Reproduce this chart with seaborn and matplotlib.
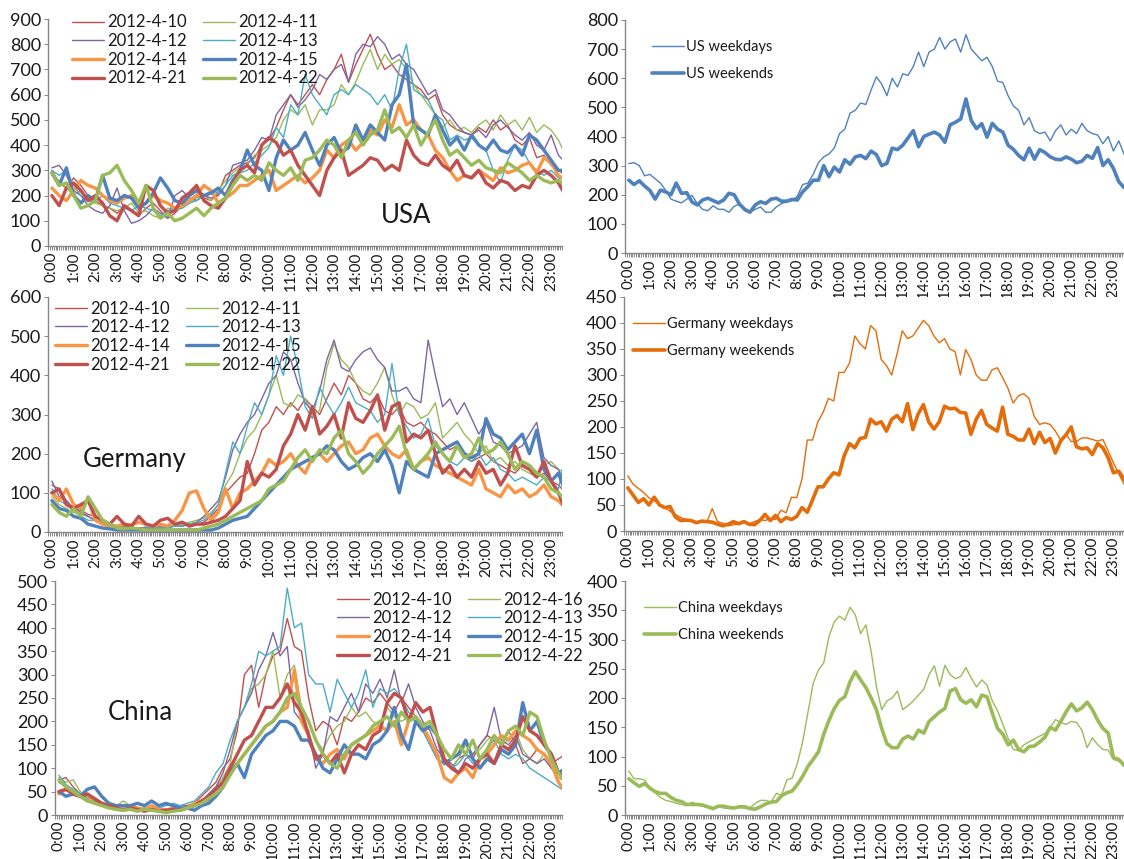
import numpy as np
import matplotlib
matplotlib.use("Agg")
import matplotlib.pyplot as plt
from matplotlib.ticker import FixedLocator, MultipleLocator
import seaborn as sns

sns.set_style("white")
plt.rcParams['font.family'] = ['Lato', 'DejaVu Sans']

# ---- data (left panels: one value every 20 min, right panels: every 15 min)
step_left = 20
step_right = 15

dates_us_de = ['2012-4-10', '2012-4-11', '2012-4-12', '2012-4-13',
               '2012-4-14', '2012-4-15', '2012-4-21', '2012-4-22']
dates_cn = ['2012-4-10', '2012-4-16', '2012-4-12', '2012-4-13',
            '2012-4-14', '2012-4-15', '2012-4-21', '2012-4-22']

usa_days = {
    '2012-4-10': [300, 250, 230, 270, 240, 200, 180, 160, 150,
                  130, 160, 140, 120, 150, 170, 140, 110, 130,
                  160, 180, 200, 190, 180, 210, 280, 300, 320,
                  330, 350, 400, 420, 470, 540, 600, 560, 600,
                  640, 600, 660, 700, 760, 650, 720, 780, 840,
                  760, 700, 720, 680, 660, 640, 620, 580, 600,
                  520, 480, 460, 450, 440, 470, 450, 500, 460,
                  480, 420, 400, 430, 350, 360, 320, 300, 280],
    '2012-4-11': [280, 260, 230, 200, 220, 180, 170, 160, 150,
                  140, 150, 170, 130, 140, 120, 110, 150, 140,
                  150, 170, 190, 200, 180, 220, 260, 290, 310,
                  320, 360, 380, 400, 430, 500, 540, 520, 560,
                  480, 540, 540, 560, 640, 600, 650, 720, 780,
                  700, 760, 720, 740, 700, 640, 600, 560, 520,
                  470, 500, 460, 470, 450, 480, 500, 460, 520,
                  480, 500, 460, 510, 450, 480, 460, 420, 360],
    '2012-4-12': [310, 320, 280, 220, 200, 160, 140, 130, 160,
                  230, 140, 90, 100, 120, 150, 130, 110, 200,
                  220, 190, 180, 200, 190, 200, 240, 320, 330,
                  340, 380, 430, 420, 520, 560, 600, 550, 580,
                  620, 680, 660, 700, 720, 650, 760, 800, 790,
                  830, 800, 740, 760, 720, 700, 650, 600, 620,
                  540, 520, 480, 450, 440, 460, 430, 480, 500,
                  470, 440, 420, 450, 400, 380, 440, 360, 330],
    '2012-4-13': [300, 280, 300, 240, 200, 180, 180, 200, 170,
                  160, 150, 140, 160, 150, 140, 120, 140, 150,
                  150, 170, 180, 200, 220, 210, 240, 280, 290,
                  300, 330, 360, 390, 470, 430, 560, 520, 680,
                  600, 560, 520, 600, 620, 600, 640, 620, 600,
                  560, 600, 540, 700, 800, 620, 600, 580, 520,
                  500, 420, 440, 420, 430, 400, 380, 300, 250,
                  340, 400, 380, 330, 300, 280, 300, 270, 260],
    '2012-4-14': [230, 200, 180, 220, 260, 240, 230, 200, 180,
                  170, 190, 200, 160, 170, 200, 180, 170, 150,
                  160, 180, 200, 240, 220, 170, 190, 210, 240,
                  240, 260, 280, 300, 220, 240, 260, 280, 250,
                  270, 300, 380, 350, 400, 420, 380, 410, 460,
                  440, 500, 470, 560, 480, 500, 460, 440, 380,
                  350, 300, 260, 280, 270, 300, 280, 260, 310,
                  290, 300, 320, 330, 290, 350, 330, 280, 260],
    '2012-4-15': [290, 240, 310, 200, 170, 200, 180, 280, 190,
                  180, 200, 190, 150, 170, 210, 270, 230, 180,
                  170, 200, 220, 200, 210, 230, 200, 260, 300,
                  380, 320, 300, 220, 350, 420, 380, 400, 450,
                  380, 320, 400, 430, 370, 390, 480, 420, 480,
                  450, 420, 560, 600, 720, 480, 460, 440, 520,
                  460, 400, 430, 380, 440, 400, 380, 420, 380,
                  370, 400, 360, 440, 420, 380, 340, 300, 300],
    '2012-4-21': [200, 160, 230, 250, 220, 180, 200, 170, 120,
                  100, 160, 140, 120, 240, 220, 160, 130, 140,
                  190, 210, 240, 180, 160, 150, 190, 250, 300,
                  320, 290, 400, 430, 410, 360, 380, 320, 280,
                  240, 200, 300, 350, 380, 280, 300, 320, 350,
                  340, 300, 320, 300, 420, 360, 330, 320, 360,
                  320, 300, 340, 280, 270, 300, 250, 230, 260,
                  250, 220, 240, 230, 280, 300, 280, 250, 200],
    '2012-4-22': [290, 240, 250, 200, 150, 160, 180, 280, 290,
                  320, 260, 220, 170, 240, 150, 110, 130, 100,
                  110, 130, 150, 120, 150, 170, 190, 240, 280,
                  260, 280, 260, 330, 300, 280, 310, 260, 340,
                  350, 380, 420, 400, 350, 420, 450, 400, 440,
                  460, 540, 450, 470, 430, 480, 400, 450, 500,
                  420, 360, 380, 350, 320, 340, 310, 300, 290,
                  330, 310, 290, 260, 280, 260, 250, 260, 240],
}

germany_days = {
    '2012-4-10': [120, 110, 80, 60, 55, 45, 40, 30, 20,
                  15, 15, 12, 10, 10, 12, 15, 12, 15,
                  15, 20, 20, 25, 40, 60, 100, 120, 140,
                  150, 200, 260, 280, 320, 300, 330, 310, 340,
                  320, 300, 340, 380, 350, 400, 380, 340, 330,
                  350, 310, 300, 320, 280, 270, 280, 260, 250,
                  230, 210, 220, 200, 180, 190, 200, 180, 170,
                  160, 150, 170, 160, 140, 150, 130, 120, 100],
    '2012-4-11': [90, 70, 60, 50, 45, 40, 30, 25, 20,
                  15, 12, 10, 10, 12, 10, 12, 15, 20,
                  20, 25, 30, 35, 50, 70, 120, 150, 200,
                  240, 260, 300, 350, 400, 330, 320, 350, 340,
                  300, 310, 420, 480, 440, 420, 380, 360, 350,
                  380, 420, 350, 300, 330, 320, 290, 300, 330,
                  240, 260, 280, 250, 230, 200, 220, 180, 190,
                  170, 180, 160, 150, 140, 170, 180, 160, 150],
    '2012-4-12': [130, 90, 80, 60, 50, 40, 30, 25, 20,
                  15, 12, 10, 10, 12, 10, 10, 12, 15,
                  15, 20, 25, 40, 60, 80, 140, 210, 250,
                  280, 300, 340, 380, 400, 460, 440, 380, 330,
                  310, 360, 440, 490, 420, 410, 440, 460, 470,
                  440, 420, 360, 360, 370, 340, 330, 490, 400,
                  320, 340, 300, 330, 290, 250, 280, 230, 220,
                  200, 210, 220, 250, 280, 190, 170, 160, 120],
    '2012-4-13': [110, 80, 70, 55, 40, 30, 30, 25, 20,
                  15, 12, 10, 10, 10, 12, 10, 12, 15,
                  15, 20, 25, 30, 45, 70, 150, 230, 200,
                  270, 330, 300, 350, 450, 400, 500, 420, 320,
                  290, 370, 330, 300, 330, 370, 330, 320, 310,
                  280, 300, 430, 300, 270, 240, 250, 290, 220,
                  200, 180, 170, 190, 180, 200, 170, 190, 160,
                  150, 130, 140, 130, 120, 140, 130, 110, 200],
    '2012-4-14': [100, 80, 110, 70, 60, 85, 30, 20, 15,
                  15, 20, 18, 25, 20, 15, 20, 15, 30,
                  55, 100, 105, 60, 30, 50, 110, 60, 100,
                  110, 130, 150, 185, 170, 180, 200, 170, 150,
                  190, 200, 180, 200, 220, 230, 200, 210, 240,
                  250, 220, 200, 190, 210, 160, 180, 190, 170,
                  160, 150, 140, 130, 120, 160, 110, 100, 90,
                  120, 100, 110, 90, 100, 120, 90, 80, 60],
    '2012-4-15': [80, 60, 55, 40, 35, 20, 15, 10, 8,
                  5, 5, 5, 5, 5, 5, 5, 5, 5,
                  5, 5, 5, 5, 5, 10, 20, 30, 35,
                  40, 60, 80, 100, 120, 140, 160, 170, 180,
                  190, 200, 220, 210, 180, 160, 170, 190, 200,
                  180, 210, 170, 100, 180, 160, 150, 140, 200,
                  210, 220, 230, 200, 190, 200, 290, 250, 240,
                  210, 230, 250, 200, 260, 160, 130, 150, 100],
    '2012-4-21': [100, 110, 70, 60, 70, 80, 40, 30, 20,
                  40, 20, 15, 40, 20, 15, 30, 35, 20,
                  25, 15, 20, 20, 25, 30, 40, 60, 80,
                  180, 120, 150, 140, 160, 220, 250, 300, 260,
                  320, 250, 270, 300, 240, 330, 290, 280, 310,
                  350, 260, 320, 330, 230, 250, 240, 260, 200,
                  150, 170, 140, 160, 140, 180, 150, 160, 120,
                  150, 220, 170, 160, 140, 180, 130, 100, 55],
    '2012-4-22': [70, 50, 40, 60, 40, 90, 60, 30, 20,
                  10, 8, 10, 8, 5, 5, 5, 5, 5,
                  5, 5, 5, 10, 15, 20, 30, 40, 50,
                  60, 70, 80, 110, 120, 130, 160, 190, 210,
                  180, 210, 200, 240, 260, 200, 180, 150, 170,
                  200, 220, 240, 270, 200, 160, 180, 200, 230,
                  200, 180, 220, 190, 200, 240, 200, 210, 230,
                  200, 160, 180, 170, 150, 140, 110, 100, 80],
}

china_days = {
    '2012-4-10': [75, 80, 60, 45, 40, 30, 25, 20, 20,
                  15, 15, 12, 10, 10, 10, 12, 15, 20,
                  20, 25, 40, 55, 70, 100, 120, 180, 300,
                  320, 230, 300, 340, 350, 420, 360, 350, 250,
                  180, 200, 190, 150, 210, 200, 220, 250, 240,
                  260, 240, 220, 250, 230, 210, 190, 150, 120,
                  110, 100, 120, 130, 120, 150, 170, 160, 150,
                  180, 150, 110, 120, 140, 130, 110, 120, 130],
    '2012-4-16': [80, 70, 75, 50, 40, 30, 25, 20, 18,
                  30, 20, 15, 10, 10, 12, 10, 10, 12,
                  15, 20, 30, 45, 60, 80, 110, 200, 230,
                  270, 280, 300, 350, 250, 300, 320, 230, 200,
                  160, 140, 170, 190, 200, 230, 210, 220, 200,
                  190, 230, 210, 200, 210, 200, 180, 150, 130,
                  120, 100, 120, 150, 130, 140, 160, 170, 150,
                  160, 180, 140, 120, 110, 130, 100, 80, 70],
    '2012-4-12': [70, 60, 50, 45, 35, 25, 20, 18, 15,
                  15, 12, 12, 10, 12, 15, 12, 10, 12,
                  15, 20, 30, 45, 60, 90, 140, 200, 230,
                  260, 310, 340, 390, 340, 360, 220, 200, 180,
                  100, 130, 210, 200, 230, 260, 220, 280, 260,
                  290, 250, 310, 240, 280, 230, 200, 180, 140,
                  120, 110, 90, 120, 130, 150, 170, 230, 160,
                  150, 170, 130, 120, 110, 120, 100, 90, 80],
    '2012-4-13': [85, 65, 55, 45, 35, 30, 25, 20, 18,
                  15, 12, 12, 15, 12, 15, 20, 25, 20,
                  25, 30, 45, 60, 90, 110, 160, 200, 230,
                  280, 350, 340, 350, 360, 485, 400, 410, 300,
                  280, 280, 220, 290, 260, 230, 260, 310, 230,
                  270, 260, 270, 250, 220, 200, 180, 150, 120,
                  110, 100, 110, 130, 110, 120, 140, 160, 130,
                  120, 130, 120, 100, 90, 80, 70, 60, 50],
    '2012-4-14': [45, 55, 45, 40, 30, 35, 25, 20, 18,
                  15, 20, 15, 12, 20, 12, 10, 15, 12,
                  15, 25, 30, 30, 40, 60, 90, 110, 130,
                  150, 170, 190, 200, 220, 230, 310, 200, 170,
                  120, 110, 130, 140, 120, 150, 160, 170, 180,
                  190, 180, 200, 150, 200, 210, 190, 160, 130,
                  80, 70, 90, 100, 80, 120, 130, 150, 170,
                  160, 180, 170, 160, 140, 130, 110, 70, 50],
    '2012-4-15': [50, 40, 45, 40, 55, 60, 40, 25, 20,
                  20, 20, 25, 20, 30, 20, 25, 20, 15,
                  15, 10, 20, 25, 40, 60, 90, 110, 80,
                  130, 150, 170, 180, 200, 200, 190, 160, 160,
                  130, 100, 90, 120, 150, 130, 130, 120, 150,
                  160, 180, 230, 170, 140, 200, 180, 190, 170,
                  110, 120, 130, 160, 120, 100, 120, 110, 140,
                  130, 150, 240, 180, 200, 150, 130, 90, 100],
    '2012-4-21': [50, 55, 45, 40, 45, 35, 25, 20, 15,
                  10, 15, 12, 8, 12, 8, 10, 12, 10,
                  15, 20, 30, 40, 55, 70, 100, 130, 160,
                  170, 200, 230, 230, 250, 280, 240, 220, 170,
                  120, 130, 110, 130, 90, 130, 150, 140, 170,
                  180, 240, 260, 250, 200, 240, 220, 230, 170,
                  120, 100, 90, 110, 100, 120, 130, 110, 150,
                  140, 160, 210, 180, 170, 150, 130, 90, 80],
    '2012-4-22': [75, 60, 50, 40, 30, 25, 20, 15, 12,
                  10, 12, 8, 12, 10, 8, 5, 8, 10,
                  15, 20, 25, 35, 45, 60, 85, 110, 130,
                  150, 170, 190, 200, 220, 250, 260, 230, 200,
                  160, 130, 110, 100, 130, 150, 160, 170, 190,
                  200, 210, 190, 220, 200, 210, 190, 200, 170,
                  140, 120, 150, 130, 160, 120, 140, 170, 150,
                  180, 190, 170, 220, 210, 160, 120, 90, 70],
}

us_weekdays = [307, 310, 300, 265, 270, 255, 240, 215, 185, 178, 172, 185,
               198, 170, 150, 145, 162, 150, 150, 140, 160, 168, 145, 140,
               150, 158, 140, 140, 158, 170, 175, 180, 195, 235, 240, 270,
               310, 330, 340, 360, 410, 425, 480, 490, 515, 510, 560, 605,
               580, 540, 600, 570, 615, 610, 640, 690, 640, 690, 700, 740,
               700, 725, 735, 690, 750, 700, 680, 660, 672, 640, 590, 585,
               540, 505, 490, 440, 465, 420, 410, 415, 385, 420, 440, 405,
               425, 410, 445, 420, 410, 405, 375, 400, 350, 385, 340, 305]
us_weekends = [250, 235, 248, 230, 215, 185, 216, 210, 200, 240, 205, 207,
               175, 165, 182, 188, 180, 172, 182, 205, 200, 168, 150, 140,
               165, 176, 170, 185, 188, 178, 178, 184, 182, 210, 228, 250,
               250, 300, 262, 295, 278, 320, 305, 330, 335, 324, 350, 338,
               300, 308, 360, 355, 370, 395, 420, 365, 400, 408, 415, 405,
               380, 440, 449, 460, 529, 455, 427, 444, 398, 445, 425, 415,
               370, 356, 335, 320, 360, 322, 355, 345, 330, 322, 320, 330,
               322, 310, 315, 335, 325, 362, 300, 320, 290, 245, 225, 215]

de_weekdays = [106, 90, 82, 74, 64, 58, 52, 45, 38, 32, 26, 22,
               19, 18, 17, 18, 43, 18, 15, 10, 12, 14, 16, 14,
               18, 22, 20, 24, 22, 40, 35, 65, 64, 100, 175, 175,
               210, 228, 255, 250, 305, 305, 323, 375, 360, 350, 395, 385,
               330, 318, 300, 340, 385, 370, 375, 390, 405, 395, 375, 362,
               370, 350, 345, 300, 349, 330, 300, 290, 290, 310, 314, 295,
               275, 246, 260, 264, 255, 220, 205, 208, 205, 192, 175, 186,
               172, 172, 179, 179, 176, 173, 176, 154, 131, 110, 90, 80]
de_weekends = [83, 69, 55, 62, 50, 65, 50, 45, 47, 27, 20, 21,
               20, 16, 19, 18, 17, 13, 10, 13, 18, 14, 18, 13,
               12, 20, 32, 20, 30, 18, 26, 22, 28, 45, 36, 60,
               85, 85, 100, 112, 108, 145, 168, 160, 178, 180, 215, 206,
               210, 192, 215, 222, 210, 245, 195, 225, 243, 210, 196, 210,
               240, 235, 236, 228, 227, 186, 215, 232, 205, 198, 192, 238,
               186, 182, 175, 175, 196, 168, 190, 170, 178, 150, 173, 185,
               200, 162, 158, 160, 147, 168, 160, 141, 112, 115, 100, 85]

cn_weekdays = [75, 62, 62, 60, 45, 38, 30, 25, 23, 20, 18, 16,
               22, 18, 15, 13, 11, 14, 12, 11, 11, 13, 12, 12,
               20, 25, 25, 22, 37, 34, 60, 63, 88, 125, 175, 225,
               248, 260, 305, 330, 340, 333, 355, 342, 310, 325, 280, 220,
               180, 195, 200, 212, 180, 187, 195, 205, 215, 240, 255, 220,
               256, 240, 233, 237, 252, 234, 219, 231, 222, 195, 178, 155,
               131, 112, 110, 120, 125, 130, 135, 139, 150, 163, 158, 155,
               160, 158, 145, 115, 132, 120, 112, 111, 95, 92, 85, 80]
cn_weekends = [62, 55, 49, 54, 46, 40, 37, 37, 30, 25, 23, 18,
               18, 18, 17, 14, 11, 15, 15, 13, 12, 14, 14, 11,
               10, 14, 19, 22, 23, 33, 38, 41, 52, 66, 83, 95,
               108, 138, 162, 182, 196, 202, 228, 245, 231, 218, 200, 180,
               148, 122, 115, 115, 130, 135, 130, 145, 140, 160, 168, 176,
               182, 212, 216, 197, 191, 197, 185, 205, 202, 174, 148, 138,
               120, 128, 112, 108, 117, 118, 125, 133, 150, 145, 160, 176,
               190, 178, 183, 193, 180, 162, 148, 140, 98, 95, 85, 80]

hour_ticks = list(range(24))
hour_labels = [f"{h}:00" for h in hour_ticks]

# ---- styles
day_colors = ['#C0504D', '#9BBB59', '#8064A2', '#4BACC6',
              '#F79646', '#4F81BD', '#C0504D', '#9BBB59']
day_widths = [1.0, 1.0, 1.0, 1.0, 2.4, 2.4, 2.4, 2.4]
axis_grey = '#868686'
text_col = '#1a1a1a'

W, H = 1124, 859
fig = plt.figure(figsize=(W / 100, H / 100), dpi=100)


def make_ax(left, top, right, bottom):
    return fig.add_axes([left / W, 1 - bottom / H, (right - left) / W, (bottom - top) / H])


def style_ax(ax, ymax, ystep):
    ax.set_xlim(-0.18, 23.5)
    ax.set_ylim(0, ymax)
    ax.set_yticks(np.arange(0, ymax + 1, ystep))
    ax.xaxis.set_major_locator(FixedLocator(hour_ticks))
    ax.set_xticklabels(hour_labels, rotation=90)
    ax.xaxis.set_minor_locator(MultipleLocator(1 / 12))
    ax.tick_params(axis='x', which='both', bottom=True, direction='out', length=3,
                   width=0.7, color=axis_grey, labelsize=11, pad=1, labelcolor=text_col)
    ax.tick_params(axis='y', left=True, direction='out', length=3, width=0.7,
                   color=axis_grey, labelsize=13, pad=2, labelcolor=text_col)
    for s in ['top', 'right']:
        ax.spines[s].set_visible(False)
    for s in ['left', 'bottom']:
        ax.spines[s].set_color(axis_grey)
        ax.spines[s].set_linewidth(1.0)
    ax.set_xlabel('')
    ax.set_ylabel('')


def day_panel(ax, data, dates, ymax, ystep, name, name_xy, leg_anchor):
    for d, c, lw in zip(dates, day_colors, day_widths):
        vals = data[d]
        hours = np.arange(len(vals)) * step_left / 60
        sns.lineplot(x=hours, y=vals, ax=ax, color=c, linewidth=lw, label=d)
    style_ax(ax, ymax, ystep)
    h, l = ax.get_legend_handles_labels()
    order = [0, 2, 4, 6, 1, 3, 5, 7]
    ax.legend([h[i] for i in order], [l[i] for i in order], ncol=2, loc='upper left',
              bbox_to_anchor=leg_anchor, frameon=False, fontsize=12,
              handlelength=1.9, handletextpad=0.2, columnspacing=1.0,
              labelspacing=0.16, borderpad=0, borderaxespad=0, labelcolor=text_col)
    ax.text(name_xy[0], name_xy[1], name, fontsize=18.5, ha='center', va='center', color=text_col)


def avg_panel(ax, weekdays, weekends, color, ymax, ystep, country, leg_anchor):
    hours = np.arange(len(weekdays)) * step_right / 60
    sns.lineplot(x=hours, y=weekdays, ax=ax, color=color, linewidth=1.0, label=f"{country} weekdays")
    sns.lineplot(x=hours, y=weekends, ax=ax, color=color, linewidth=2.6, label=f"{country} weekends")
    style_ax(ax, ymax, ystep)
    ax.legend(loc='upper left', bbox_to_anchor=leg_anchor, frameon=False, fontsize=10.5,
              handlelength=2.2, handletextpad=0.15, labelspacing=0.9,
              borderpad=0, borderaxespad=0, labelcolor=text_col)


ax_us = make_ax(48, 19, 562, 246)
day_panel(ax_us, usa_days, dates_us_de, 900, 100, 'USA', (16.3, 119), (0.047, 1.02))

ax_de = make_ax(48, 297, 562, 532)
day_panel(ax_de, germany_days, dates_us_de, 600, 100, 'Germany', (3.8, 184), (0.014, 0.985))

ax_cn = make_ax(55, 581, 562, 815)
day_panel(ax_cn, china_days, dates_cn, 500, 50, 'China', (3.8, 218), (0.556, 0.955))

ax_us2 = make_ax(625, 20, 1124, 253)
avg_panel(ax_us2, us_weekdays, us_weekends, '#4F81BD', 800, 100, 'US', (0.054, 0.915))

ax_de2 = make_ax(624, 297, 1124, 531)
avg_panel(ax_de2, de_weekdays, de_weekends, '#E46C0A', 450, 50, 'Germany', (0.018, 0.915))

ax_cn2 = make_ax(625, 581, 1124, 815)
avg_panel(ax_cn2, cn_weekdays, cn_weekends, '#9BBB59', 400, 50, 'China', (0.038, 0.915))

fig.savefig('out.png', dpi=100, facecolor='white')
